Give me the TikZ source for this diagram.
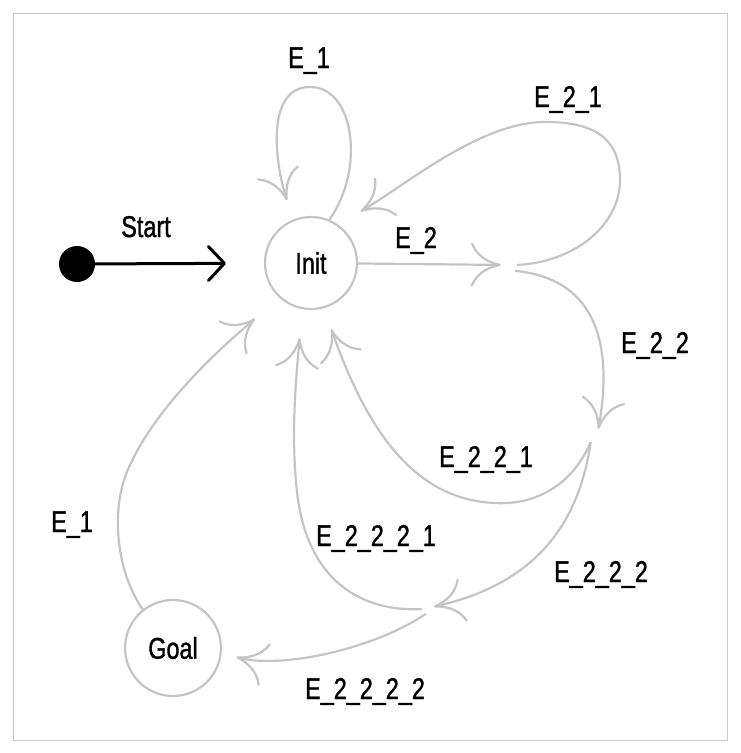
\documentclass[tikz,border=0pt]{standalone}
\usepackage{fontspec}
\setmainfont{Liberation Sans}[FakeStretch=0.78,FakeBold=1.2]
\usetikzlibrary{arrows.meta}
\definecolor{edgegray}{RGB}{196,196,196}
\definecolor{framegray}{RGB}{200,200,200}

\begin{document}
\begin{tikzpicture}[x=1pt,y=-1pt,
	font=\fontsize{30}{36}\selectfont,
	state/.style={circle,draw=edgegray,line width=2.2pt,inner sep=0pt},
	junction/.style={circle,inner sep=0pt,minimum size=16pt},
	trans/.style={draw=edgegray,line width=2.2pt,-{Computer Modern Rightarrow[length=30pt,width=44pt]}},
	lbl/.style={anchor=base,inner sep=0pt}]
				\useasboundingbox (0,0) rectangle (740,753);
				\draw[framegray,line width=1pt] (13,13) rectangle (727,740);
				
				% States
				\node[state,minimum size=92pt] (init) at (311,263) {Init};
				\node[state,minimum size=96pt] (goal) at (173,648) {Goal};
				\node[circle,fill=black,inner sep=0pt,minimum size=36pt] (dot) at (77,264) {};
				
				% Junctions
				\node[junction] (j1) at (509,265) {};
				\node[junction] (j2) at (597,437) {};
				\node[junction,minimum size=12pt] (j3) at (428,608) {};
				
				% Start
				\draw[line width=3pt,-{Straight Barb[length=16pt,width=34pt,round]},shorten >=38pt] (dot) -- (init);
				
				% Transitions
				\draw[trans,shorten >=20pt] (init.67) .. controls (365,170) and (355,87) .. (310,87) .. controls (265,87) and (275,164) .. (init.112);
				\draw[trans] (init) -- (j1);
				\draw[trans,shorten >=26pt] (j1.east) .. controls (575,262) and (620,225) .. (620,180) .. controls (620,135) and (590,122) .. (545,122) .. controls (480,122) and (406,185) .. (init.55);
				\draw[trans] (j1.-45) .. controls (590,278) and (615,335) .. (j2);
				\draw[trans,shorten >=22pt] (j2.220) .. controls (570,490) and (530,505) .. (495,503) .. controls (420,500) and (370,440) .. (init.-74);
				\draw[trans] (j2.220) .. controls (578,530) and (530,585) .. (j3);
				\draw[trans,shorten >=29pt] (j3.190) .. controls (360,612) and (310,580) .. (298,500) .. controls (290,440) and (296,380) .. (init.-101);
				\draw[trans,shorten >=15pt] (j3.-110) .. controls (372,650) and (280,669) .. (goal.-6);
				\draw[trans,shorten >=32pt] (goal.128) .. controls (118,575) and (108,510) .. (130,465) .. controls (160,400) and (230,340) .. (init.-132);
				
				% Labels
				\node[lbl] (lStart) at (146,237) {Start};
				\node[lbl] (lLoop) at (309,68) {E\_1};
				\node[lbl] (lE2) at (416,248) {E\_2};
				\node[lbl] (lE21) at (568,107) {E\_2\_1};
				\node[lbl] (lE22) at (655,353) {E\_2\_2};
				\node[lbl] (lE221) at (486,467) {E\_2\_2\_1};
				\node[lbl] (lE222) at (601,582) {E\_2\_2\_2};
				\node[lbl] (lE2221) at (376,546) {E\_2\_2\_2\_1};
				\node[lbl] (lE2222) at (365,699) {E\_2\_2\_2\_2};
				\node[lbl] (lBack) at (72,532) {E\_1};
			\end{tikzpicture}
\end{document}
